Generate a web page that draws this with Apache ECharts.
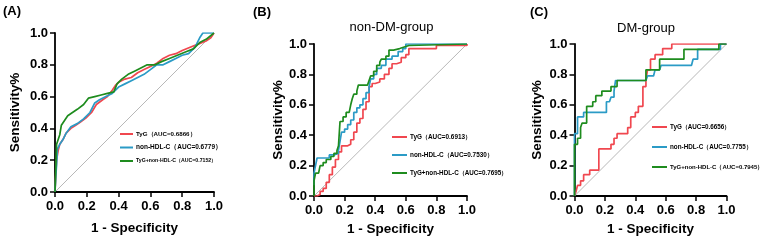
<!DOCTYPE html>
<html><head><meta charset="utf-8">
<script src="https://cdn.jsdelivr.net/npm/echarts@6/dist/echarts.min.js"></script>
<style>html,body{margin:0;padding:0;background:#fff}#c{width:767px;height:241px}</style>
</head><body><div id="c"></div>
<script>
// ---- data ----
const panelLabels = ['(A)', '(B)', '(C)'];
const panelTitles = ['', 'non-DM-group', 'DM-group'];
const tickValues = [0, 0.2, 0.4, 0.6, 0.8, 1.0];
const xAxisTitle = '1 - Specificity';
const yAxisTitle = 'Sensitivity%';

const namesA = ['TyG（AUC=0.6866）', 'non-HDL-C（AUC=0.6779）', 'TyG+non-HDL-C（AUC=0.7152）'];
const namesB = ['TyG（AUC=0.6913）', 'non-HDL-C（AUC=0.7530）', 'TyG+non-HDL-C（AUC=0.7695）'];
const namesC = ['TyG（AUC=0.6656）', 'non-HDL-C（AUC=0.7755）', 'TyG+non-HDL-C（AUC=0.7945）'];

const rocA_TyG = [[0,0],[0.005,0.12],[0.01,0.2],[0.02,0.26],[0.03,0.3],[0.05,0.33],[0.07,0.37],[0.1,0.4],[0.13,0.42],[0.16,0.44],[0.2,0.47],[0.23,0.5],[0.26,0.55],[0.3,0.58],[0.33,0.6],[0.36,0.64],[0.38,0.67],[0.4,0.69],[0.44,0.71],[0.48,0.72],[0.52,0.75],[0.56,0.77],[0.6,0.79],[0.64,0.81],[0.68,0.84],[0.72,0.86],[0.76,0.87],[0.8,0.89],[0.85,0.91],[0.9,0.93],[0.95,0.95],[0.98,0.97],[1,1]];
const rocA_HDL = [[0,0],[0.005,0.1],[0.01,0.17],[0.015,0.27],[0.03,0.3],[0.05,0.33],[0.07,0.37],[0.1,0.41],[0.14,0.43],[0.18,0.46],[0.22,0.5],[0.25,0.56],[0.28,0.58],[0.32,0.6],[0.36,0.62],[0.4,0.66],[0.44,0.68],[0.48,0.7],[0.52,0.72],[0.56,0.74],[0.6,0.77],[0.64,0.8],[0.68,0.8],[0.72,0.82],[0.76,0.84],[0.8,0.86],[0.84,0.87],[0.88,0.91],[0.91,0.97],[0.93,1.0],[1,1]];
const rocA_Comb = [[0,0],[0.005,0.15],[0.01,0.3],[0.02,0.33],[0.03,0.36],[0.04,0.42],[0.06,0.45],[0.08,0.48],[0.11,0.5],[0.14,0.52],[0.18,0.55],[0.21,0.59],[0.25,0.6],[0.29,0.61],[0.33,0.62],[0.37,0.63],[0.39,0.68],[0.42,0.71],[0.46,0.74],[0.5,0.76],[0.54,0.78],[0.58,0.8],[0.63,0.8],[0.67,0.82],[0.72,0.84],[0.77,0.86],[0.82,0.88],[0.87,0.9],[0.91,0.94],[0.95,0.96],[1,1]];

const rocB_TyG = [[0,0],[0.02,0.01],[0.04,0.03],[0.06,0.05],[0.08,0.09],[0.1,0.14],[0.12,0.19],[0.14,0.24],[0.16,0.29],[0.18,0.33],[0.22,0.34],[0.24,0.37],[0.26,0.42],[0.28,0.48],[0.3,0.51],[0.32,0.57],[0.34,0.62],[0.36,0.72],[0.38,0.74],[0.4,0.75],[0.43,0.77],[0.46,0.8],[0.49,0.84],[0.51,0.87],[0.54,0.88],[0.57,0.91],[0.6,0.93],[0.62,0.97],[0.8,0.97],[0.8,0.99],[1,0.99],[1,1]];
const rocB_HDL = [[0,0.07],[0,0.15],[0.01,0.2],[0.02,0.25],[0.08,0.25],[0.1,0.27],[0.13,0.28],[0.16,0.3],[0.17,0.36],[0.18,0.42],[0.2,0.44],[0.22,0.47],[0.24,0.5],[0.26,0.55],[0.28,0.58],[0.3,0.6],[0.32,0.64],[0.34,0.68],[0.36,0.72],[0.37,0.77],[0.39,0.8],[0.41,0.84],[0.44,0.86],[0.47,0.9],[0.51,0.92],[0.55,0.95],[0.58,0.97],[0.6,1.0],[1,1]];
const rocB_Comb = [[0,0],[0,0.1],[0.01,0.15],[0.03,0.16],[0.04,0.2],[0.06,0.22],[0.08,0.24],[0.11,0.26],[0.13,0.28],[0.15,0.3],[0.16,0.33],[0.17,0.49],[0.19,0.52],[0.21,0.55],[0.23,0.56],[0.24,0.6],[0.25,0.64],[0.26,0.67],[0.28,0.69],[0.29,0.73],[0.35,0.73],[0.36,0.76],[0.37,0.79],[0.39,0.82],[0.41,0.86],[0.43,0.88],[0.44,0.9],[0.47,0.92],[0.49,0.96],[0.52,0.97],[0.56,0.98],[0.59,0.99],[0.62,1.0],[1,1]];

const rocC_TyG = [[0,0],[0.01,0.03],[0.02,0.07],[0.04,0.07],[0.04,0.1],[0.06,0.1],[0.06,0.14],[0.08,0.14],[0.1,0.17],[0.16,0.17],[0.16,0.31],[0.22,0.31],[0.24,0.34],[0.26,0.38],[0.28,0.41],[0.33,0.41],[0.35,0.45],[0.37,0.52],[0.4,0.55],[0.42,0.59],[0.45,0.59],[0.45,0.72],[0.47,0.76],[0.48,0.83],[0.5,0.9],[0.53,0.93],[0.58,0.97],[0.64,1.0],[1,1]];
const rocC_HDL = [[0,0],[0,0.41],[0.02,0.41],[0.02,0.52],[0.06,0.52],[0.06,0.55],[0.21,0.55],[0.21,0.62],[0.23,0.62],[0.24,0.65],[0.26,0.69],[0.27,0.76],[0.47,0.76],[0.48,0.79],[0.52,0.79],[0.53,0.83],[0.56,0.83],[0.57,0.86],[0.77,0.86],[0.78,0.9],[0.81,0.9],[0.81,0.965],[0.96,0.965],[0.96,1],[1,1]];
const rocC_Comb = [[0,0],[0,0.34],[0.02,0.34],[0.02,0.38],[0.04,0.38],[0.04,0.45],[0.05,0.48],[0.08,0.48],[0.08,0.59],[0.12,0.59],[0.12,0.62],[0.14,0.62],[0.14,0.66],[0.18,0.66],[0.18,0.69],[0.24,0.69],[0.24,0.72],[0.28,0.72],[0.28,0.76],[0.47,0.76],[0.47,0.83],[0.56,0.83],[0.56,0.9],[0.72,0.9],[0.72,0.965],[0.95,0.965],[0.95,1],[1,1]];
const diagonal = [[0,0],[1,1]];

// ---- layout / style ----
const FONT = 'Liberation Sans, Arial, sans-serif';
const colors = ['#f0474f', '#2b9bc6', '#1e8c1e'];
const grids = [
  {left: 55, top: 33, width: 159, height: 159},
  {left: 314, top: 44, width: 153, height: 153},
  {left: 574.5, top: 44, width: 152, height: 152}
];
const xNameGap = [29, 26, 26];
const yNameGap = [33, 29, 30];
const names = [namesA, namesB, namesC];
const data = [[rocA_TyG, rocA_HDL, rocA_Comb],[rocB_TyG, rocB_HDL, rocB_Comb],[rocC_TyG, rocC_HDL, rocC_Comb]];

function axisCommon() {
  return {
    type: 'value', min: 0, max: 1, interval: 0.2,
    axisLine: {show: true, lineStyle: {color: '#000', width: 1.8}},
    axisTick: {show: true, length: 5, lineStyle: {color: '#000', width: 1.5}},
    splitLine: {show: false},
    axisLabel: {color: '#000', fontFamily: FONT, fontWeight: 'bold', fontSize: 13,
      formatter: v => v.toFixed(1)},
    nameTextStyle: {color: '#000', fontFamily: FONT, fontWeight: 'bold', fontSize: 13.5}
  };
}

const xAxis = [], yAxis = [], series = [], legend = [];
for (let i = 0; i < 3; i++) {
  xAxis.push(Object.assign(axisCommon(), {gridIndex: i, name: xAxisTitle, nameLocation: 'middle', nameGap: xNameGap[i],
    axisLabel: Object.assign(axisCommon().axisLabel, {margin: 8})}));
  yAxis.push(Object.assign(axisCommon(), {gridIndex: i, name: yAxisTitle, nameLocation: 'middle', nameGap: yNameGap[i],
    axisLabel: Object.assign(axisCommon().axisLabel, {margin: 7})}));
  series.push({type: 'line', xAxisIndex: i, yAxisIndex: i, data: diagonal, showSymbol: false, silent: true,
    lineStyle: {color: '#9a9a9a', width: 0.7}, z: 1});
  for (let k = 0; k < 3; k++) {
    series.push({type: 'line', name: names[i][k], xAxisIndex: i, yAxisIndex: i, data: data[i][k],
      step: i === 0 ? false : 'end', showSymbol: false, symbol: 'none',
      lineStyle: {color: colors[k], width: 1.7}, itemStyle: {color: colors[k]}, z: 2 + k});
  }
}
const legendPos = [
  {left: 120, top: 130, gap: 5.5, lh: 8, iw: 13, fs: [6.2, 6.5, 5.2]},
  {left: 392, top: 132.5, gap: 9, lh: 9, iw: 15, fs: [6.4, 6.4, 6.3]},
  {left: 652, top: 122.5, gap: 11, lh: 9, iw: 15, fs: [6.3, 6.3, 6.0]}
];
for (let i = 0; i < 3; i++) {
  const p = legendPos[i];
  legend.push({orient: 'vertical', left: p.left, top: p.top, padding: 0, itemGap: p.gap,
    itemWidth: p.iw, itemHeight: 2, icon: 'rect',
    data: names[i].map((n, k) => ({name: n, textStyle: {fontSize: p.fs[k]}})),
    textStyle: {color: '#000', fontFamily: FONT, fontWeight: 'bold', lineHeight: p.lh, padding: [0,0,0,-2]}});
}

const graphic = [
  {type: 'text', left: 3, top: 5, style: {text: panelLabels[0], font: 'bold 13px ' + FONT, fill: '#000'}},
  {type: 'text', left: 253, top: 6, style: {text: panelLabels[1], font: 'bold 13px ' + FONT, fill: '#000'}},
  {type: 'text', left: 530, top: 6, style: {text: panelLabels[2], font: 'bold 13px ' + FONT, fill: '#000'}},
  {type: 'text', x: 391.5, y: 27, style: {text: panelTitles[1], font: '13px ' + FONT, fill: '#000', align: 'center', verticalAlign: 'middle'}},
  {type: 'text', x: 646, y: 28, style: {text: panelTitles[2], font: '13px ' + FONT, fill: '#000', align: 'center', verticalAlign: 'middle'}}
];

const chart = echarts.init(document.getElementById('c'), null, {renderer: 'canvas'});
chart.setOption({animation: false, backgroundColor: '#fff', grid: grids, xAxis, yAxis, series, legend, graphic});
</script></body></html>
